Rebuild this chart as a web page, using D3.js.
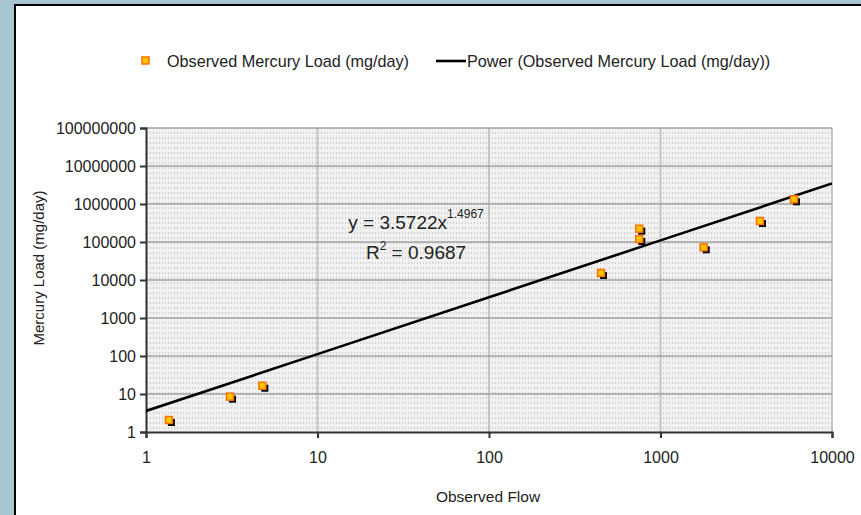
<!DOCTYPE html>
<html><head><meta charset="utf-8">
<script src="https://cdn.jsdelivr.net/npm/d3@7"></script>
<style>
html,body{margin:0;padding:0;background:#a7c6d1;}
svg{display:block;font-family:"Liberation Sans",Arial,sans-serif;}
</style></head>
<body>
<svg id="chart" width="861" height="515"></svg>
<script>
// Data
const flow = [1.36, 3.09, 4.77, 450, 752, 752, 1786, 3800, 6000];
const load = [2.07, 8.5, 16.5, 15300, 224000, 120000, 72500, 357000, 1330000];
const xTicks = [1, 10, 100, 1000, 10000];
const yTicks = [1, 10, 100, 1000, 10000, 100000, 1000000, 10000000, 100000000];
const trendCoef = 3.5722, trendExp = 1.4967, rSquared = "0.9687";
const trendX = [1, 10, 100, 1000, 10000];
const seriesName = "Observed Mercury Load (mg/day)";
const trendName = "Power (Observed Mercury Load (mg/day))";
const xTitle = "Observed Flow", yTitle = "Mercury Load (mg/day)";

const svg = d3.select("#chart");
// white panel
svg.append("rect").attr("x",15).attr("y",5).attr("width",900).attr("height",600)
  .attr("fill","#fff").attr("stroke","#000").attr("stroke-width",2);

const L=146, R=832, T=128, B=432;
const x = d3.scaleLog().domain([1,10000]).range([L,R]);
const y = d3.scaleLog().domain([1,100000000]).range([B,T]);

const defs = svg.append("defs");
const pat = defs.append("pattern").attr("id","dots").attr("patternUnits","userSpaceOnUse")
  .attr("width",3).attr("height",5);
pat.append("rect").attr("width",3).attr("height",5).attr("fill","#f1f1f1");
pat.append("rect").attr("x",0).attr("y",2).attr("width",1).attr("height",2).attr("fill","#cfcfcf");
defs.append("clipPath").attr("id","clip").append("rect").attr("x",L).attr("y",T).attr("width",R-L).attr("height",B-T);

svg.append("rect").attr("x",L).attr("y",T).attr("width",R-L).attr("height",B-T).attr("fill","url(#dots)");

// vertical grid
svg.append("g").selectAll("line").data(xTicks.slice(1)).join("line")
  .attr("x1",d=>x(d)).attr("x2",d=>x(d)).attr("y1",T).attr("y2",B)
  .attr("stroke","#c4c4c4").attr("stroke-width",2);
// horizontal grid
svg.append("g").selectAll("line").data(yTicks.slice(1)).join("line")
  .attr("x1",L).attr("x2",R).attr("y1",d=>y(d)).attr("y2",d=>y(d))
  .attr("stroke","#a0a0a0").attr("stroke-width",1.6);

// axes
const fmt = d3.format("d");
const yAxis = svg.append("g").attr("transform",`translate(${L},0)`)
  .call(d3.axisLeft(y).tickValues(yTicks).tickFormat(fmt).tickSize(6).tickPadding(4));
const xAxis = svg.append("g").attr("transform",`translate(0,${B})`)
  .call(d3.axisBottom(x).tickValues(xTicks).tickFormat(fmt).tickSize(6).tickPadding(14));
[yAxis,xAxis].forEach(a=>{
  a.select(".domain").attr("stroke","#333").attr("stroke-width",2);
  a.selectAll(".tick line").attr("stroke","#333").attr("stroke-width",2);
  a.selectAll("text").attr("font-size",16).attr("fill","#222").attr("font-family","Liberation Sans, Arial, sans-serif");
});

// trend line
const line = d3.line().x(d=>x(d)).y(d=>y(trendCoef*Math.pow(d,trendExp)));
svg.append("path").datum(trendX).attr("d",line).attr("fill","none")
  .attr("stroke","#000").attr("stroke-width",2.6).attr("clip-path","url(#clip)");

// points
const pts = flow.map((f,i)=>({f, l:load[i]}));
const g = svg.append("g");
g.selectAll(".sh").data(pts).join("rect").attr("class","sh")
  .attr("x",d=>x(d.f)-1).attr("y",d=>y(d.l)-1).attr("width",7).attr("height",7).attr("fill","#000");
g.selectAll(".pt").data(pts).join("rect").attr("class","pt")
  .attr("x",d=>x(d.f)-3.5).attr("y",d=>y(d.l)-3.5).attr("width",7).attr("height",7)
  .attr("fill","#ffc400").attr("stroke","#ff7000").attr("stroke-width",1.5);

// equation
const eq = svg.append("text").attr("x",416).attr("y",229).attr("text-anchor","middle")
  .attr("font-size",19).attr("fill","#222");
eq.append("tspan").text("y = "+trendCoef+"x");
eq.append("tspan").attr("font-size",12).attr("dy",-11).text(trendExp);
const r2 = svg.append("text").attr("x",416).attr("y",259).attr("text-anchor","middle")
  .attr("font-size",19).attr("fill","#222");
r2.append("tspan").text("R");
r2.append("tspan").attr("font-size",12).attr("dy",-9).text("2");
r2.append("tspan").attr("dy",9).text(" = "+rSquared);

// legend
svg.append("rect").attr("x",142).attr("y",57).attr("width",7).attr("height",7)
  .attr("fill","#ffc400").attr("stroke","#ff7000").attr("stroke-width",1.5);
svg.append("text").attr("x",167).attr("y",67).attr("font-size",16.2).attr("fill","#222").text(seriesName);
svg.append("line").attr("x1",436).attr("x2",466).attr("y1",61).attr("y2",61).attr("stroke","#000").attr("stroke-width",2.6);
svg.append("text").attr("x",467).attr("y",67).attr("font-size",16.2).attr("fill","#222").text(trendName);

// axis titles
svg.append("text").attr("x",488).attr("y",502).attr("text-anchor","middle").attr("font-size",15.5).attr("fill","#222").text(xTitle);
svg.append("text").attr("transform","translate(44,268) rotate(-90)").attr("text-anchor","middle")
  .attr("font-size",15).attr("fill","#222").text(yTitle);
</script>
</body></html>
